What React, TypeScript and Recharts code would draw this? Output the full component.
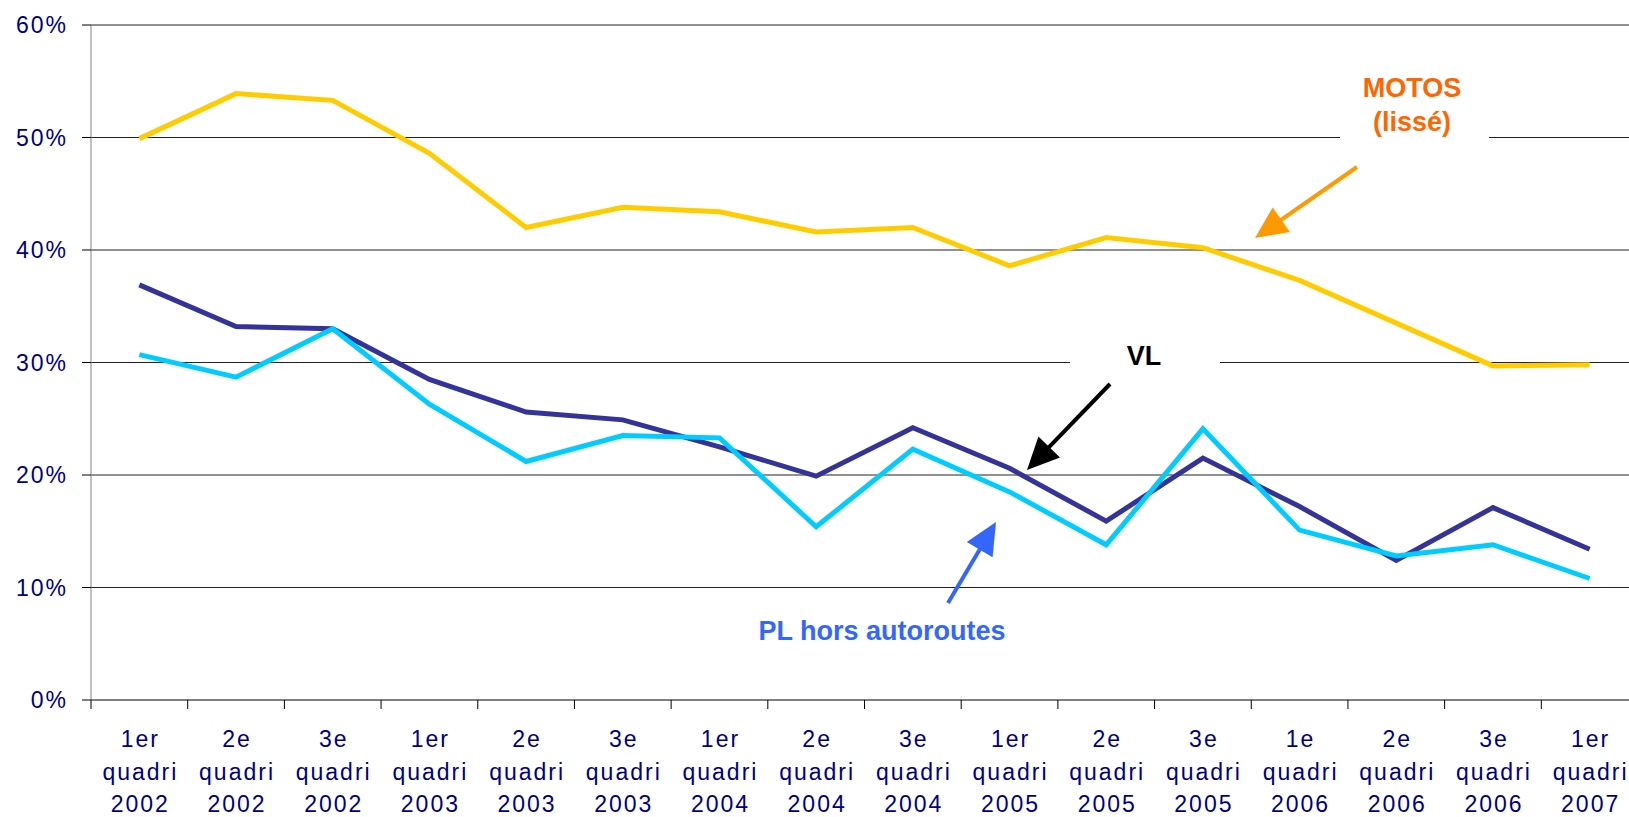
import React from "react";
import { LineChart, Line, XAxis, YAxis, CartesianGrid } from "recharts";

const periods = [
  ["1er", "quadri", "2002"],
  ["2e", "quadri", "2002"],
  ["3e", "quadri", "2002"],
  ["1er", "quadri", "2003"],
  ["2e", "quadri", "2003"],
  ["3e", "quadri", "2003"],
  ["1er", "quadri", "2004"],
  ["2e", "quadri", "2004"],
  ["3e", "quadri", "2004"],
  ["1er", "quadri", "2005"],
  ["2e", "quadri", "2005"],
  ["3e", "quadri", "2005"],
  ["1e", "quadri", "2006"],
  ["2e", "quadri", "2006"],
  ["3e", "quadri", "2006"],
  ["1er", "quadri", "2007"],
];

const motos = [49.9, 53.9, 53.3, 48.6, 42.0, 43.8, 43.4, 41.6, 42.0, 38.6, 41.1, 40.2, 37.3, 33.5, 29.7, 29.8];
const vl = [36.9, 33.2, 33.0, 28.5, 25.6, 24.9, 22.5, 19.9, 24.2, 20.6, 15.9, 21.5, 17.2, 12.4, 17.1, 13.4];
const pl = [30.7, 28.7, 33.0, 26.3, 21.2, 23.5, 23.3, 15.4, 22.3, 18.5, 13.8, 24.1, 15.1, 12.8, 13.8, 10.8];

const yTicks = [0, 10, 20, 30, 40, 50, 60];

const data = periods.map((p, i) => ({
  key: p.join(" "),
  motos: motos[i],
  vl: vl[i],
  pl: pl[i],
}));

const FONT = "'Liberation Sans', Arial, sans-serif";
const CHART_W = 1638;
const CHART_H = 817;
const AXIS_W = 91;
const BAND = (CHART_W - AXIS_W) / periods.length;

function PeriodTick(props: any) {
  const { x, y, index } = props;
  const lines = periods[index] || [];
  const offs = [47, 80, 112];
  return (
    <g>
      <line x1={x - BAND / 2} x2={x - BAND / 2} y1={y} y2={y + 9} stroke="#000" strokeWidth={1} />
      {lines.map((t, k) => (
        <text
          key={k}
          x={x + 1}
          y={y + offs[k]}
          textAnchor="middle"
          fill="#000080"
          fontSize={23}
          fontFamily={FONT}
          letterSpacing={2}
        >
          {t}
        </text>
      ))}
    </g>
  );
}

function Arrow({ x1, y1, x2, y2, color }: { x1: number; y1: number; x2: number; y2: number; color: string }) {
  const dx = x2 - x1;
  const dy = y2 - y1;
  const len = Math.sqrt(dx * dx + dy * dy);
  const ux = dx / len;
  const uy = dy / len;
  const hl = 32;
  const hw = 15;
  const bx = x2 - ux * hl;
  const by = y2 - uy * hl;
  return (
    <g>
      <line x1={x1} y1={y1} x2={bx + ux * 2} y2={by + uy * 2} stroke={color} strokeWidth={4} />
      <polygon
        points={`${x2},${y2} ${bx - uy * hw},${by + ux * hw} ${bx + uy * hw},${by - ux * hw}`}
        fill={color}
      />
    </g>
  );
}

export default function App() {
  return (
    <div style={{ position: "absolute", left: 0, top: 0, width: 1629, height: 817, overflow: "hidden", background: "#fff" }}>
      <LineChart width={CHART_W} height={CHART_H} data={data} margin={{ top: 25, right: 0, bottom: 0, left: 0 }}>
        <CartesianGrid vertical={false} stroke="#222" horizontalValues={[10, 20, 30, 40, 50, 60]} />
        <XAxis
          dataKey="key"
          interval={0}
          height={117}
          padding={{ left: BAND / 2, right: BAND / 2 }}
          tickSize={0}
          tickMargin={0}
          tickLine={false}
          axisLine={{ stroke: "#000", strokeWidth: 1 }}
          tick={<PeriodTick />}
        />
        <YAxis
          width={AXIS_W}
          domain={[0, 60]}
          ticks={yTicks}
          interval={0}
          tickSize={9}
          tickMargin={14}
          tickFormatter={(v: number) => `${v}%`}
          axisLine={{ stroke: "#808080", strokeWidth: 1 }}
          tickLine={{ stroke: "#000" }}
          tick={{ fill: "#000080", fontSize: 23, fontFamily: FONT, letterSpacing: 2 }}
        />
        <Line dataKey="motos" stroke="#FFCC00" strokeWidth={5} dot={false} isAnimationActive={false} strokeLinejoin="miter" />
        <Line dataKey="vl" stroke="#333399" strokeWidth={5} dot={false} isAnimationActive={false} strokeLinejoin="miter" />
        <Line dataKey="pl" stroke="#00CCFF" strokeWidth={5} dot={false} isAnimationActive={false} strokeLinejoin="miter" />
      </LineChart>
      <svg width={1629} height={817} style={{ position: "absolute", left: 0, top: 0, pointerEvents: "none" }}>
        <rect x={1340} y={60} width={149} height={84} fill="#fff" />
        <text x={1412} y={97} textAnchor="middle" fill="#FF6600" fontSize={27} fontWeight="bold" fontFamily={FONT}>MOTOS</text>
        <text x={1412} y={131} textAnchor="middle" fill="#FF6600" fontSize={27} fontWeight="bold" fontFamily={FONT}>(lissé)</text>
        <Arrow x1={1357} y1={167} x2={1255} y2={238} color="#FF9900" />

        <rect x={1070} y={328} width={150} height={47} fill="#fff" />
        <text x={1144} y={365} textAnchor="middle" fill="#000" fontSize={27} fontWeight="bold" fontFamily={FONT}>VL</text>
        <Arrow x1={1110} y1={384} x2={1027} y2={470} color="#000" />

        <text x={882} y={640} textAnchor="middle" fill="#3366FF" fontSize={27} fontWeight="bold" fontFamily={FONT}>PL hors autoroutes</text>
        <Arrow x1={948} y1={603} x2={996} y2={522} color="#3366FF" />
      </svg>
    </div>
  );
}
